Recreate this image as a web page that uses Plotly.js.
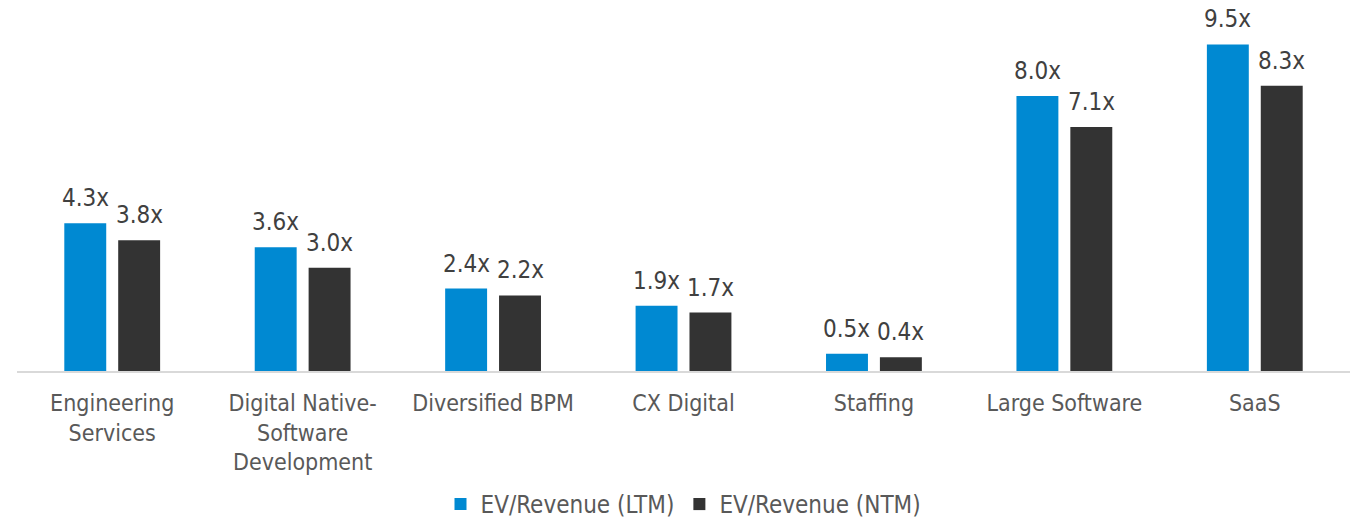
<!DOCTYPE html>
<html><head><meta charset="utf-8">
<script src="https://cdn.plot.ly/plotly-3.0.1.min.js"></script>
<style>html,body{margin:0;padding:0;background:#fff}#chart{width:1350px;height:527px}</style>
</head><body><div id="chart"></div>
<script>
var categories = ["Engineering<br>Services","Digital Native-<br>Software<br>Development","Diversified BPM","CX Digital","Staffing","Large Software","SaaS"];
var ltmValues = [4.3,3.6,2.4,1.9,0.5,8.0,9.5];
var ntmValues = [3.8,3.0,2.2,1.7,0.4,7.1,8.3];
var seriesNames = ["EV/Revenue (LTM)","EV/Revenue (NTM)"];
var FONT = "DejaVu Sans Condensed, DejaVu Sans, sans-serif";
function lbl(v){return v.toFixed(1)+"x";}
var traces = [
 {type:"bar",name:seriesNames[0],x:categories,y:ltmValues,marker:{color:"#0089D2"},hoverinfo:"x+y"},
 {type:"bar",name:seriesNames[1],x:categories,y:ntmValues,marker:{color:"#333333"},hoverinfo:"x+y"}
];
var annotations = [];
[[ltmValues,-27],[ntmValues,27]].forEach(function(p){
  p[0].forEach(function(v,i){
    annotations.push({x:categories[i],y:v,xref:"x",yref:"y",text:lbl(v),showarrow:false,
      xshift:p[1],yshift:25,yanchor:"middle",xanchor:"center",
      font:{family:FONT,size:24,color:"#404040"}});
  });
});
// plot area: top 10px, baseline at 371px; margins t=10,b=0 -> paper height 517
var layout = {
 width:1350,height:527,
 margin:{l:17,r:0,t:10,b:0},
 paper_bgcolor:"#fff",plot_bgcolor:"#fff",
 barmode:"group",bargap:0.434,bargroupgap:0.222,
 font:{family:FONT,size:20,color:"#595959"},
 annotations:annotations,
 xaxis:{showline:true,linecolor:"#D9D9D9",linewidth:2,ticks:"outside",ticklen:10,tickcolor:"rgba(0,0,0,0)",
   tickfont:{family:FONT,size:23,color:"#595959"},showgrid:false,zeroline:false,fixedrange:true,automargin:false},
 yaxis:{domain:[0.3017,1],range:[0,10.5],visible:false,showgrid:false,zeroline:false,fixedrange:true},
 showlegend:true,
 legend:{orientation:"h",x:0.5,xanchor:"center",y:0,yanchor:"bottom",
   font:{family:FONT,size:24,color:"#595959"},itemwidth:30,tracegroupgap:0}
};
Plotly.newPlot("chart",traces,layout,{displayModeBar:false,staticPlot:true});
</script></body></html>
